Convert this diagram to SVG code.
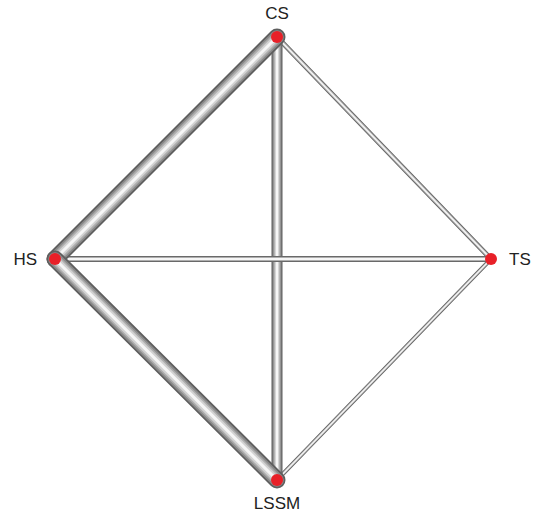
<svg xmlns="http://www.w3.org/2000/svg" xmlns:xlink="http://www.w3.org/1999/xlink" width="535" height="516" viewBox="0 0 535 516">
<style>
text{font-family:"Liberation Sans",Arial,sans-serif;font-size:17px;fill:#222}
.t{fill:none;stroke-linecap:round;stroke-linejoin:round}
.a{stroke:#5e5e5e}
.b{stroke:#8a8a8a}
.c{stroke:#adadad}
.d{stroke:#d2d2d2}
.e{stroke:#f6f6f6}
.n{fill:#e82028}
</style>
<defs>
<path id="p1" d="M277,37 L55,259"/>
<path id="p2" d="M55,259 L277,480"/>
<path id="p3" d="M277,37 L277,480"/>
<path id="p4" d="M55,259 L491,259"/>
<path id="p5" d="M277,37 L491,259"/>
<path id="p6" d="M491,259 L277,480"/>
</defs>
<rect width="535" height="516" fill="#fff"/>
<g id="edges">
<g id="e6"><use xlink:href="#p6" class="t a" stroke-width="4"/><use xlink:href="#p6" class="t c" stroke-width="2.6"/><use xlink:href="#p6" class="t e" stroke-width="1.2"/></g>
<g id="e5"><use xlink:href="#p5" class="t a" stroke-width="5"/><use xlink:href="#p5" class="t c" stroke-width="3.4"/><use xlink:href="#p5" class="t e" stroke-width="1.6"/></g>
<g id="e3"><use xlink:href="#p3" class="t a" stroke-width="11"/><use xlink:href="#p3" class="t b" stroke-width="8.8"/><use xlink:href="#p3" class="t c" stroke-width="6.6"/><use xlink:href="#p3" class="t d" stroke-width="4.4"/><use xlink:href="#p3" class="t e" stroke-width="2.2"/></g>
<g id="e4"><use xlink:href="#p4" class="t a" stroke-width="6"/><use xlink:href="#p4" class="t b" stroke-width="4.6"/><use xlink:href="#p4" class="t d" stroke-width="3.2"/><use xlink:href="#p4" class="t e" stroke-width="1.8"/></g>
<g id="e1"><use xlink:href="#p1" class="t a" stroke-width="17"/><use xlink:href="#p1" class="t b" stroke-width="13.6"/><use xlink:href="#p1" class="t c" stroke-width="10.2"/><use xlink:href="#p1" class="t d" stroke-width="6.8"/><use xlink:href="#p1" class="t e" stroke-width="3"/></g>
<g id="e2"><use xlink:href="#p2" class="t a" stroke-width="17"/><use xlink:href="#p2" class="t b" stroke-width="13.6"/><use xlink:href="#p2" class="t c" stroke-width="10.2"/><use xlink:href="#p2" class="t d" stroke-width="6.8"/><use xlink:href="#p2" class="t e" stroke-width="3"/></g>
</g>
<g id="CS"><circle class="n" cx="277" cy="37" r="6"/><text x="277" y="19" text-anchor="middle">CS</text></g>
<g id="HS"><circle class="n" cx="55" cy="259" r="6"/><text x="37" y="265" text-anchor="end">HS</text></g>
<g id="TS"><circle class="n" cx="491" cy="259" r="6"/><text x="509" y="265">TS</text></g>
<g id="LSSM"><circle class="n" cx="277" cy="480" r="6"/><text x="277" y="509" text-anchor="middle">LSSM</text></g>
</svg>
